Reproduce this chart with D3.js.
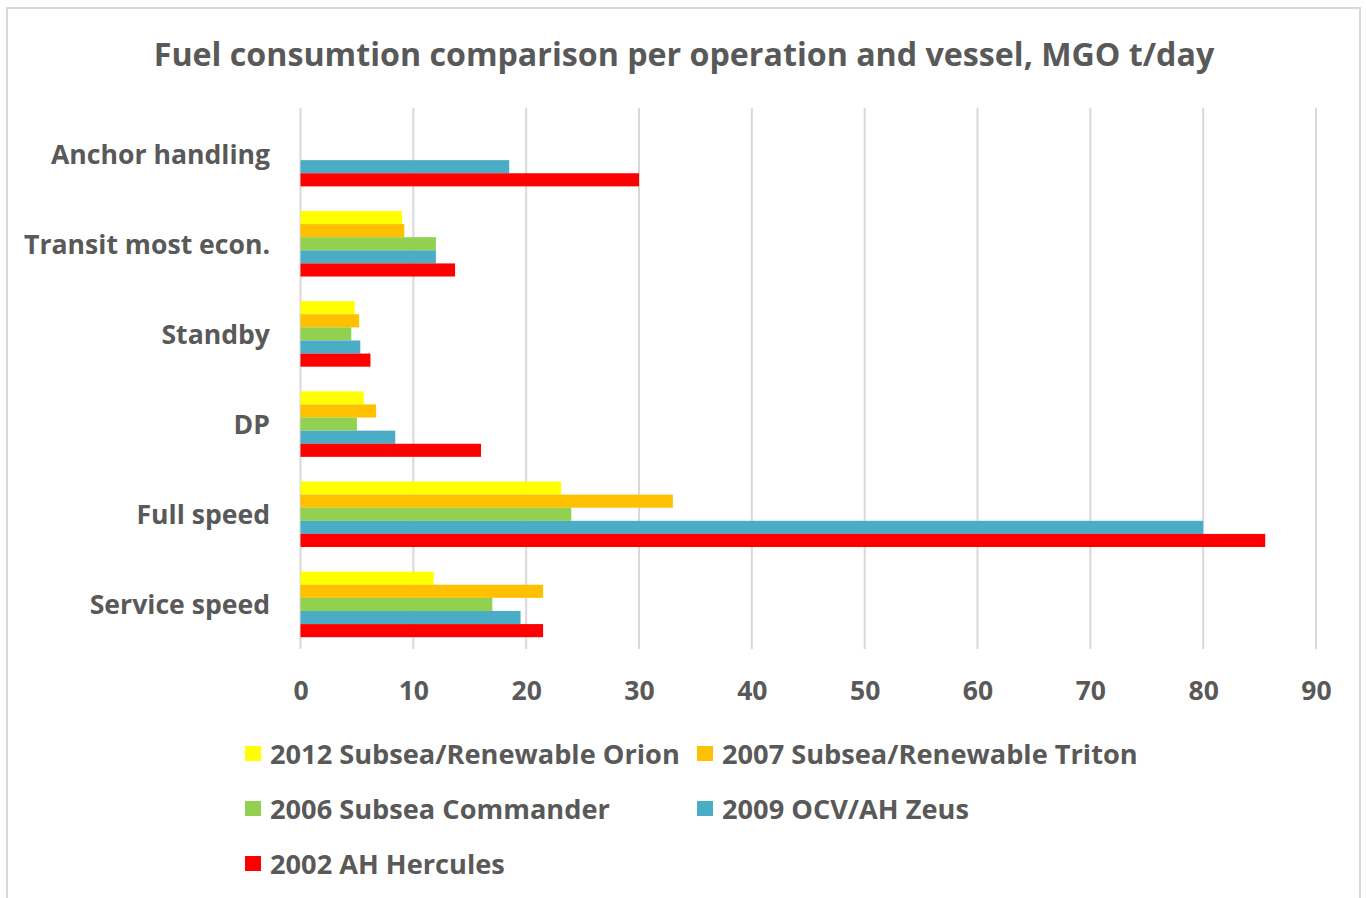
<!DOCTYPE html>
<html>
<head>
<meta charset="utf-8">
<script src="https://cdn.jsdelivr.net/npm/d3@7"></script>
<style>
  html, body { margin: 0; padding: 0; background: #fff; }
  svg { display: block; }
  text { font-family: "Open Sans", "Noto Sans", sans-serif; font-weight: 700; fill: #595959; }
</style>
</head>
<body>
<svg id="chart" width="1366" height="898"></svg>
<script>
const title = "Fuel consumtion comparison per operation and vessel, MGO t/day";
const categories = ["Anchor handling", "Transit most econ.", "Standby", "DP", "Full speed", "Service speed"];
const seriesNames = ["2012 Subsea/Renewable Orion", "2007 Subsea/Renewable Triton", "2006 Subsea Commander", "2009 OCV/AH Zeus", "2002 AH Hercules"];
const seriesColors = ["#FFFF00", "#FFC000", "#92D050", "#4BACC6", "#FF0000"];
const orion     = [0,   9.0,  4.8, 5.6, 23.1, 11.8];
const triton    = [0,   9.2,  5.2, 6.7, 33.0, 21.5];
const commander = [0,  12.0,  4.5, 5.0, 24.0, 17.0];
const zeus      = [18.5, 12.0, 5.3, 8.4, 80.0, 19.5];
const hercules  = [30.0, 13.7, 6.2, 16.0, 85.5, 21.5];
const xTicks = [0, 10, 20, 30, 40, 50, 60, 70, 80, 90];

const seriesValues = [orion, triton, commander, zeus, hercules];

const svg = d3.select("#chart");

// outer border
svg.append("rect").attr("x", 7).attr("y", 8).attr("width", 1353).attr("height", 920)
  .attr("fill", "none").attr("stroke", "#D9D9D9").attr("stroke-width", 2);

// title
svg.append("text").attr("x", 684).attr("y", 53).attr("text-anchor", "middle")
  .attr("dominant-baseline", "central").style("font-size", "32.2px").text(title);

const x = d3.scaleLinear().domain([0, 90]).range([300.5, 1316]);
const y = d3.scaleBand().domain(categories).range([108.5, 649.5]).paddingInner(0.273).paddingOuter(0.1365);
const ySub = d3.scaleBand().domain(seriesNames).range([0, y.bandwidth()]);

// gridlines
svg.append("g").selectAll("line").data(xTicks).join("line")
  .attr("x1", d => x(d)).attr("x2", d => x(d))
  .attr("y1", 108).attr("y2", 649)
  .attr("stroke", "#D9D9D9").attr("stroke-width", 2);

// bars
const rows = [];
categories.forEach((c, ci) => {
  seriesNames.forEach((s, si) => {
    rows.push({ cat: c, ser: s, color: seriesColors[si], value: seriesValues[si][ci] });
  });
});
svg.append("g").selectAll("rect").data(rows.filter(d => d.value > 0)).join("rect")
  .attr("x", x(0))
  .attr("y", d => y(d.cat) + ySub(d.ser))
  .attr("width", d => x(d.value) - x(0))
  .attr("height", ySub.bandwidth())
  .attr("fill", d => d.color);

// x axis labels
const xAxis = d3.axisBottom(x).tickValues(xTicks).tickSize(0).tickPadding(0);
const gx = svg.append("g").attr("transform", "translate(0,690)").call(xAxis);
gx.select(".domain").remove();
gx.selectAll("text").attr("dy", null).attr("dominant-baseline", "central")
  .style("font-size", "26.5px").attr("fill", "#595959");
gx.attr("font-family", null).attr("font-size", null);

// y axis labels
const yAxis = d3.axisLeft(y).tickSize(0).tickPadding(0);
const gy = svg.append("g").attr("transform", "translate(270,0)").call(yAxis);
gy.select(".domain").remove();
gy.selectAll("text").attr("dy", null).attr("x", 0).attr("dominant-baseline", "central")
  .style("font-size", "26.6px").attr("fill", "#595959");
gy.attr("font-family", null).attr("font-size", null);

// legend
const legendPos = [[245, 753], [697, 753], [245, 808], [697, 808], [245, 863]];
const lg = svg.append("g").selectAll("g").data(seriesNames).join("g")
  .attr("transform", (d, i) => `translate(${legendPos[i][0]},${legendPos[i][1]})`);
lg.append("rect").attr("x", 0).attr("y", -7).attr("width", 16).attr("height", 15)
  .attr("fill", (d, i) => seriesColors[i]);
lg.append("text").attr("x", 25).attr("y", 0).attr("dominant-baseline", "central")
  .style("font-size", "27.2px").text(d => d);
</script>
</body>
</html>
